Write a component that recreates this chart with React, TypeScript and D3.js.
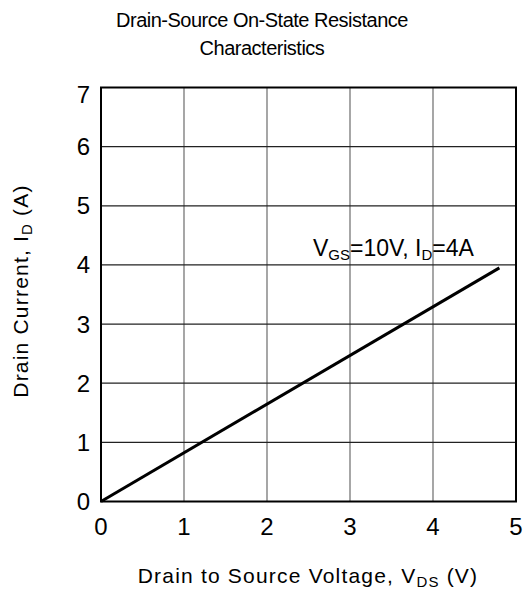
import { useEffect, useRef } from 'react';
import * as d3 from 'd3';

const vds = [0, 4.8];
const idCurrent = [0, 3.95];
const xTicks = [0, 1, 2, 3, 4, 5];
const yTicks = [0, 1, 2, 3, 4, 5, 6, 7];

const W = 524;
const H = 590;
const M = { left: 101, right: 8, top: 87.5, bottom: 88.5 };
const FONT = 'Liberation Sans, Arial, sans-serif';

export default function App() {
  const ref = useRef<SVGSVGElement>(null);

  useEffect(() => {
    const svg = d3.select(ref.current);
    svg.selectAll('*').remove();

    const x = d3.scaleLinear().domain([0, 5]).range([M.left, W - M.right]);
    const y = d3.scaleLinear().domain([0, 7]).range([H - M.bottom, M.top]);

    svg.append('rect').attr('width', W).attr('height', H).attr('fill', '#fff');

    // grid
    svg.append('g')
      .selectAll('line')
      .data(xTicks.slice(1, -1))
      .join('line')
      .attr('x1', (d) => x(d)).attr('x2', (d) => x(d))
      .attr('y1', y(0)).attr('y2', y(7))
      .attr('stroke', '#777').attr('stroke-width', 1.3);
    svg.append('g')
      .selectAll('line')
      .data(yTicks.slice(1, -1))
      .join('line')
      .attr('x1', x(0)).attr('x2', x(5))
      .attr('y1', (d) => y(d)).attr('y2', (d) => y(d))
      .attr('stroke', '#222').attr('stroke-width', 1.3);

    svg.append('rect')
      .attr('x', x(0)).attr('y', y(7))
      .attr('width', x(5) - x(0)).attr('height', y(0) - y(7))
      .attr('fill', 'none').attr('stroke', '#000').attr('stroke-width', 2);

    // tick labels
    svg.append('g')
      .selectAll('text')
      .data(xTicks)
      .join('text')
      .attr('x', (d) => x(d)).attr('y', 535)
      .attr('text-anchor', 'middle')
      .attr('font-family', FONT).attr('font-size', 24)
      .text((d) => d);
    svg.append('g')
      .selectAll('text')
      .data(yTicks)
      .join('text')
      .attr('x', 90).attr('y', (d) => Math.max(y(d) + 8.5, 102.5))
      .attr('text-anchor', 'end')
      .attr('font-family', FONT).attr('font-size', 24)
      .text((d) => d);

    // data line
    const pts = vds.map((v, i) => [v, idCurrent[i]] as [number, number]);
    const line = d3.line<[number, number]>().x((d) => x(d[0])).y((d) => y(d[1]));
    svg.append('path')
      .datum(pts)
      .attr('d', line)
      .attr('fill', 'none').attr('stroke', '#000').attr('stroke-width', 3);

    // annotation
    const ann = svg.append('text')
      .attr('x', 313).attr('y', 256)
      .attr('font-family', FONT).attr('font-size', 23);
    ann.append('tspan').text('V');
    ann.append('tspan').attr('font-size', 15).attr('dy', 4).text('GS');
    ann.append('tspan').attr('dy', -4).text('=10V, I');
    ann.append('tspan').attr('font-size', 15).attr('dy', 4).text('D');
    ann.append('tspan').attr('dy', -4).text('=4A');

    // titles
    svg.append('text')
      .attr('x', 262).attr('y', 27)
      .attr('text-anchor', 'middle')
      .attr('letter-spacing', -0.5)
      .attr('font-family', FONT).attr('font-size', 20)
      .text('Drain-Source On-State Resistance');
    svg.append('text')
      .attr('x', 262).attr('y', 55)
      .attr('text-anchor', 'middle')
      .attr('letter-spacing', -0.5)
      .attr('font-family', FONT).attr('font-size', 20)
      .text('Characteristics');

    const xt = svg.append('text')
      .attr('x', 308).attr('y', 583)
      .attr('text-anchor', 'middle')
      .attr('letter-spacing', 1.2)
      .attr('font-family', FONT).attr('font-size', 21);
    xt.append('tspan').text('Drain to Source Voltage, V');
    xt.append('tspan').attr('font-size', 15).attr('dy', 4).text('DS');
    xt.append('tspan').attr('dy', -4).text(' (V)');

    const yt = svg.append('text')
      .attr('transform', 'translate(28,291) rotate(-90)')
      .attr('text-anchor', 'middle')
      .attr('letter-spacing', 1.2)
      .attr('font-family', FONT).attr('font-size', 21);
    yt.append('tspan').text('Drain Current, I');
    yt.append('tspan').attr('font-size', 15).attr('dy', 4).text('D');
    yt.append('tspan').attr('dy', -4).text(' (A)');
  }, []);

  return (
    <svg
      ref={ref}
      width={W}
      height={H}
      style={{ position: 'absolute', left: 0, top: 0 }}
    />
  );
}
